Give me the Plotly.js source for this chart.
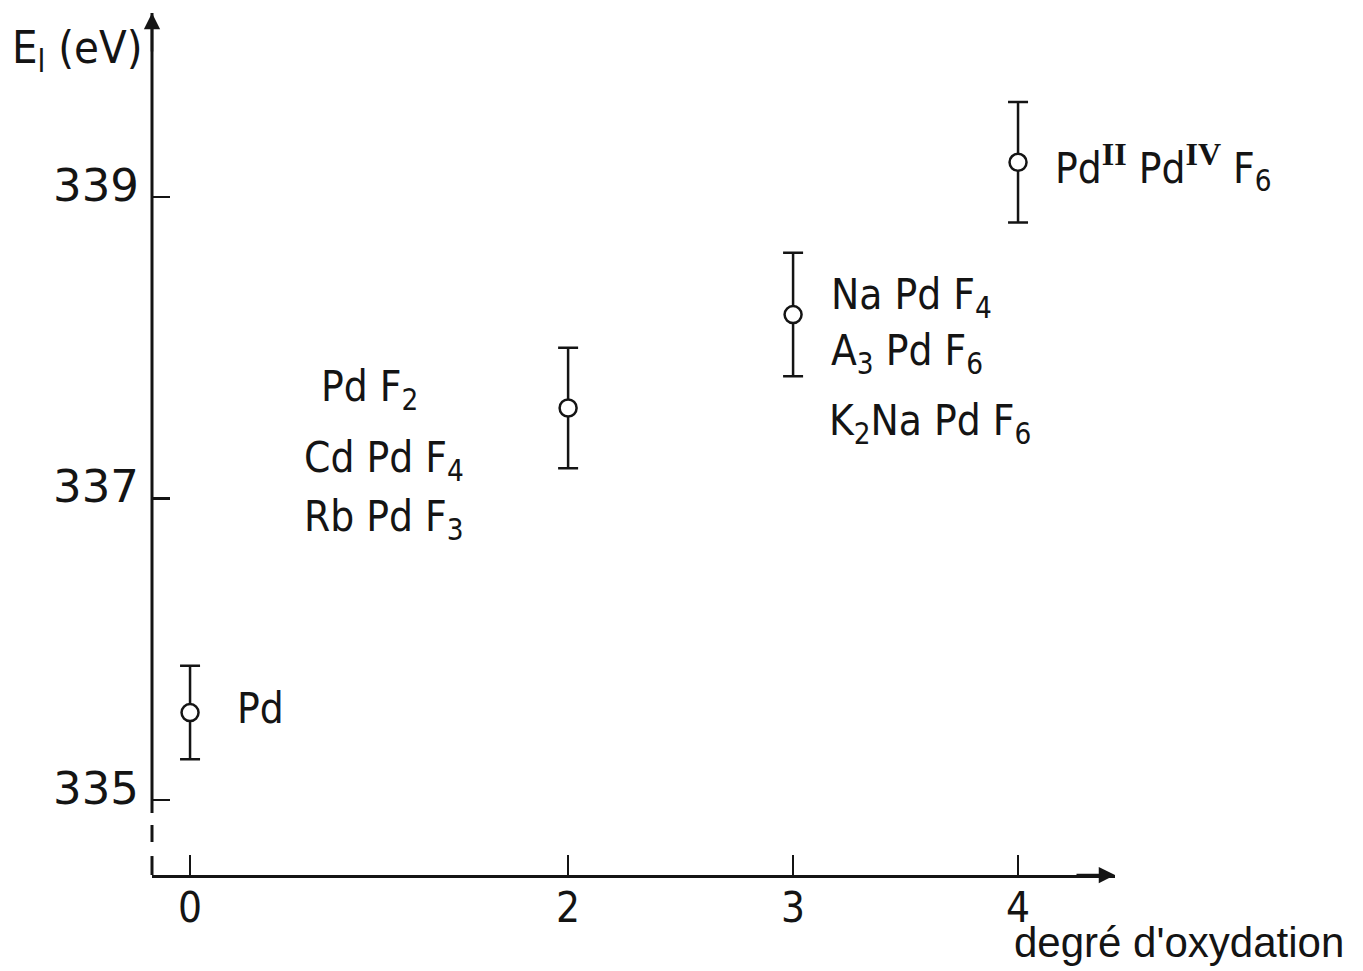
<!DOCTYPE html>
<html>
<head>
<meta charset="utf-8">
<script src="https://cdn.plot.ly/plotly-3.0.1.min.js"></script>
<style>html,body{margin:0;padding:0;background:#fff;}#chart{width:1363px;height:971px;}</style>
</head>
<body>
<div id="chart"></div>
<script>
// Data
const degrees   = [0, 2, 3, 4];                       // degré d'oxydation
const energies  = [335.58, 337.60, 338.22, 339.23];   // E_l (eV)
const errors    = [0.31, 0.40, 0.41, 0.40];           // error bar half-lengths (eV)
const yTickVals = [335, 337, 339];
const yTickText = ['335', '337', '339'];

const INK = '#141414';
const FONT = '"DejaVu Sans Condensed", "DejaVu Sans", sans-serif';
const FONT_WIDE = '"DejaVu Sans", sans-serif';

function trace(idx, xaxis) {
  return {
    x: idx.map(i => degrees[i]),
    y: idx.map(i => energies[i]),
    xaxis: xaxis, yaxis: 'y',
    type: 'scatter', mode: 'markers',
    marker: {symbol: 'circle', size: 17, color: '#fff', line: {color: INK, width: 2.5}},
    error_y: {type: 'data', array: idx.map(i => errors[i]), visible: true,
              color: INK, thickness: 2.5, width: 10},
    hoverinfo: 'x+y', showlegend: false, cliponaxis: false
  };
}
const data = [trace([0], 'x'), trace([1, 2, 3], 'x2')];

const split = 0.2368;
const axCommon = {
  showgrid: false, zeroline: false, showline: true, linecolor: INK, linewidth: 3,
  ticks: 'inside', ticklen: 20, tickwidth: 2.5, tickcolor: INK,
  tickfont: {family: FONT, size: 42, color: INK}, ticklabelstandoff: -6,
  anchor: 'y', fixedrange: true
};

const labelFont = {family: FONT, size: 42, color: INK};
function lab(text, x, y) {
  return {text: text, xref: 'paper', yref: 'y', x: x, y: y, xanchor: 'left', yanchor: 'middle',
          showarrow: false, font: labelFont};
}
const roman = t => '<sup><span style="font-family:\'Liberation Serif\',serif;font-weight:bold;font-size:32px">' + t + '</span></sup>';

const layout = {
  width: 1363, height: 971,
  margin: {l: 152, r: 248, t: 13, b: 96, pad: 0},
  paper_bgcolor: '#fff', plot_bgcolor: '#fff',
  showlegend: false,
  xaxis: Object.assign({}, axCommon, {domain: [0, split], range: [-0.169, 0.844],
          tickvals: degrees.slice(0, 1), ticktext: degrees.slice(0, 1).map(String)}),
  xaxis2: Object.assign({}, axCommon, {domain: [split, 1], range: [1.164, 4.431],
          tickvals: degrees.slice(1), ticktext: degrees.slice(1).map(String)}),
  yaxis: {
    range: [334.5025, 340.22], showgrid: false, zeroline: false, showline: false,
    ticks: 'inside', ticklen: 18, tickwidth: 2.5, tickcolor: INK,
    tickvals: yTickVals, ticktext: yTickText,
    tickfont: {family: FONT_WIDE, size: 45, color: INK},
    ticklabelstandoff: 12, ticklabelshift: -12,
    anchor: 'x', fixedrange: true
  },
  shapes: [
    // y axis line with a dashed break at the bottom
    {type: 'line', xref: 'paper', yref: 'paper', x0: 0, x1: 0, y0: 0.0719, y1: 1, line: {color: INK, width: 3}},
    {type: 'line', xref: 'paper', yref: 'paper', x0: 0, x1: 0, y0: 0.0383, y1: 0.058, line: {color: INK, width: 3}},
    {type: 'line', xref: 'paper', yref: 'paper', x0: 0, x1: 0, y0: 0, y1: 0.022, line: {color: INK, width: 3}}
  ],
  annotations: [
    // axis arrows
    {xref: 'paper', yref: 'paper', x: 0, y: 1, ax: 0, ay: 40, text: '', showarrow: true,
     arrowhead: 2, arrowsize: 1.3, arrowwidth: 2.5, arrowcolor: INK},
    {xref: 'paper', yref: 'paper', x: 1, y: 0, ax: -40, ay: 0, text: '', showarrow: true,
     arrowhead: 2, arrowsize: 1.3, arrowwidth: 2.5, arrowcolor: INK},
    // axis titles
    {xref: 'paper', yref: 'paper', x: -0.147, y: 0.993, xanchor: 'left', yanchor: 'top',
     text: 'E<sub>l</sub> (eV)', showarrow: false, font: {family: FONT, size: 45, color: INK}},
    {xref: 'paper', yref: 'paper', x: 0.8935, y: -0.0785, xanchor: 'left', yanchor: 'middle',
     text: "degré d'oxydation", showarrow: false,
     font: {family: '"Liberation Sans", Arial, sans-serif', size: 42, color: INK}},
    // compound labels
    lab('Pd', 0.0862, 335.604),
    lab('Pd F<sub>2</sub>', 0.173, 337.72),
    lab('Cd Pd F<sub>4</sub>', 0.1559, 337.25),
    lab('Rb Pd F<sub>3</sub>', 0.1559, 336.86),
    lab('Na Pd F<sub>4</sub>', 0.7025, 338.33),
    lab('A<sub>3</sub> Pd F<sub>6</sub>', 0.7025, 337.96),
    lab('K<sub>2</sub>Na Pd F<sub>6</sub>', 0.7005, 337.50),
    lab('Pd' + roman('II') + ' Pd' + roman('IV') + ' F<sub>6</sub>', 0.9355, 339.20)
  ]
};

Plotly.newPlot('chart', data, layout, {staticPlot: true, displayModeBar: false});
</script>
</body>
</html>
